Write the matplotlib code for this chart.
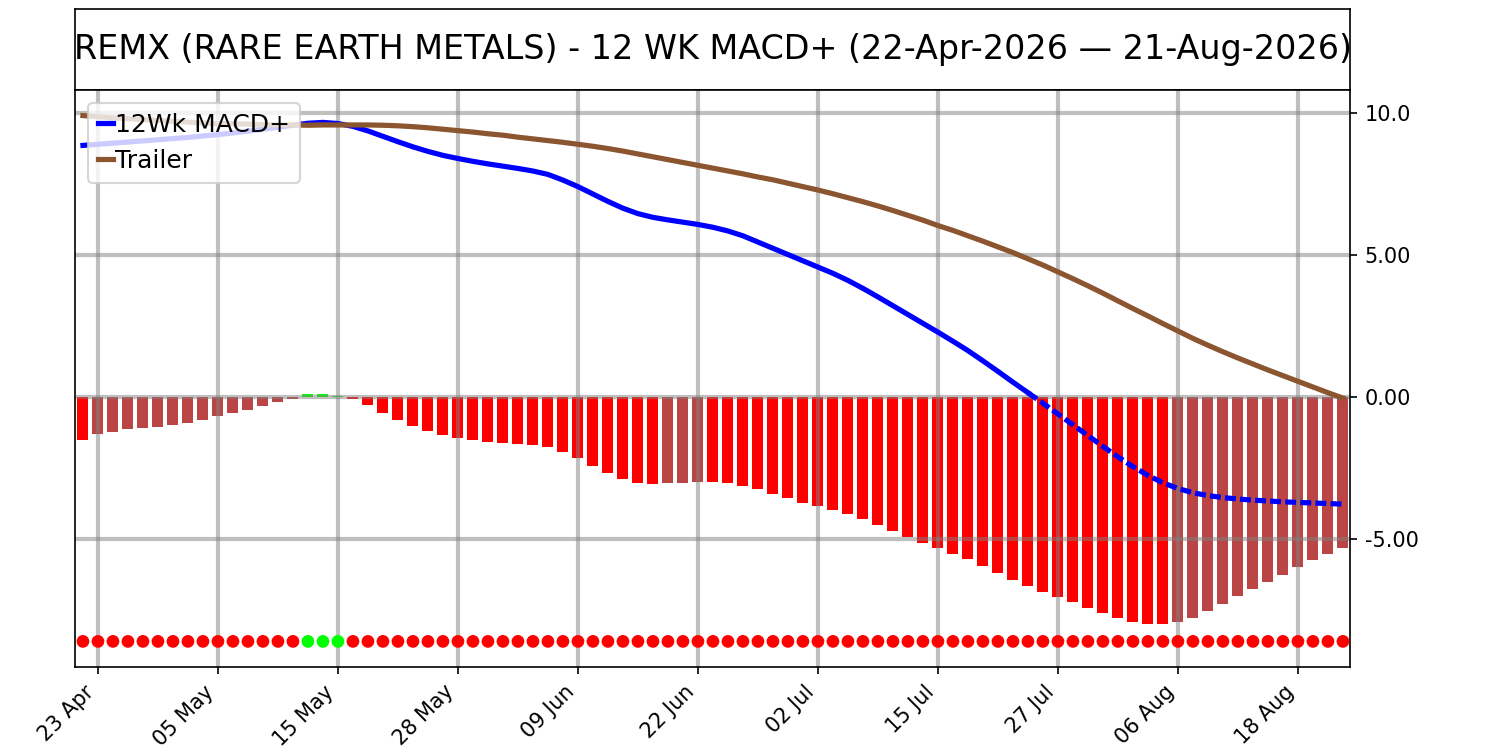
import numpy as np
import pandas as pd
import matplotlib
matplotlib.use('Agg')
import matplotlib.pyplot as plt
from matplotlib.ticker import FuncFormatter

# trading days (US market holidays skipped)
holidays = ['2026-05-25', '2026-06-19', '2026-07-03']
dates = pd.bdate_range('2026-04-22', '2026-08-21', freq='C', holidays=holidays)

macd = [8.85, 8.89, 8.93, 8.97, 9.01, 9.05, 9.09, 9.13, 9.18, 9.23,
        9.29, 9.35, 9.42, 9.49, 9.56, 9.63, 9.66, 9.62, 9.52, 9.36,
        9.17, 8.98, 8.80, 8.64, 8.50, 8.39, 8.29, 8.20, 8.12, 8.04,
        7.95, 7.83, 7.63, 7.40, 7.14, 6.88, 6.64, 6.45, 6.32, 6.23,
        6.15, 6.07, 5.97, 5.84, 5.67, 5.45, 5.23, 5.01, 4.79, 4.57,
        4.35, 4.10, 3.82, 3.52, 3.21, 2.90, 2.59, 2.28, 1.96, 1.63,
        1.27, 0.90, 0.52, 0.15, -0.22, -0.60, -0.98, -1.36, -1.74, -2.11,
        -2.45, -2.76, -3.02, -3.22, -3.37, -3.47, -3.54, -3.59, -3.63, -3.66,
        -3.69, -3.71, -3.73, -3.75, -3.77]

trailer = [9.90, 9.86, 9.82, 9.79, 9.76, 9.73, 9.70, 9.67, 9.64, 9.62,
           9.61, 9.60, 9.58, 9.57, 9.57, 9.56, 9.57, 9.57, 9.57, 9.57,
           9.56, 9.54, 9.51, 9.47, 9.42, 9.37, 9.32, 9.26, 9.21, 9.14,
           9.08, 9.02, 8.96, 8.89, 8.82, 8.74, 8.65, 8.55, 8.45, 8.35,
           8.25, 8.15, 8.05, 7.95, 7.85, 7.74, 7.64, 7.52, 7.40, 7.28,
           7.15, 7.01, 6.87, 6.72, 6.56, 6.39, 6.22, 6.03, 5.86, 5.67,
           5.48, 5.28, 5.08, 4.86, 4.64, 4.40, 4.16, 3.91, 3.65, 3.38,
           3.11, 2.85, 2.58, 2.32, 2.06, 1.82, 1.59, 1.37, 1.16, 0.95,
           0.75, 0.55, 0.35, 0.15, -0.04]

hist = [-1.51, -1.31, -1.22, -1.11, -1.08, -1.04, -0.97, -0.90, -0.80, -0.66,
        -0.55, -0.45, -0.31, -0.17, -0.06, 0.09, 0.12, 0.03, -0.08, -0.28,
        -0.55, -0.80, -1.01, -1.19, -1.33, -1.43, -1.50, -1.57, -1.61, -1.64,
        -1.68, -1.75, -1.93, -2.14, -2.42, -2.66, -2.88, -3.02, -3.05, -3.03,
        -3.02, -2.98, -2.99, -3.02, -3.12, -3.23, -3.40, -3.55, -3.72, -3.83,
        -3.97, -4.11, -4.29, -4.50, -4.71, -4.92, -5.13, -5.31, -5.52, -5.69,
        -5.94, -6.19, -6.44, -6.64, -6.85, -7.03, -7.21, -7.43, -7.59, -7.78,
        -7.91, -7.98, -7.99, -7.91, -7.78, -7.52, -7.28, -7.00, -6.76, -6.50,
        -6.26, -5.97, -5.73, -5.52, -5.31]

title = 'REMX (RARE EARTH METALS) - 12 WK MACD+ (22-Apr-2026 \u2014 21-Aug-2026)'

x = np.arange(len(dates))
macd = np.array(macd)

# bar colours: positive -> lime, negative falling -> red, negative rising -> brownish
bar_colors = []
for i, v in enumerate(hist):
    if v > 0:
        bar_colors.append('#00ff00')
    elif i == 0 or v < hist[i - 1]:
        bar_colors.append('#ff0000')
    else:
        bar_colors.append('#bb4444')
dot_colors = ['#00ff00' if v > 0 else '#ff0000' for v in hist]

fig = plt.figure(figsize=(10, 5), dpi=150)

tax = fig.add_axes([0.05, 0.88, 0.85, 0.108])
tax.set_xticks([])
tax.set_yticks([])
tax.text(0.5, 0.5, title, ha='center', va='center', fontsize=16, transform=tax.transAxes)

ax = fig.add_axes([0.05, 0.1107, 0.85, 0.7693])
ax.bar(x, hist, width=0.73, color=bar_colors)

last_pos = int(np.where(macd >= 0)[0][-1])
ax.plot(x[:last_pos + 1], macd[:last_pos + 1], color='blue', lw=2.5, label='12Wk MACD+')
ax.plot(x[last_pos:], macd[last_pos:], color='blue', lw=2.5, ls=(0, (2.1, 0.8)))
ax.plot(x, trailer, color='#8b5530', lw=2.5, label='Trailer')

ax.scatter(x, np.full(len(x), -8.6), c=dot_colors, s=26, zorder=3)

ax.set_xlim(-0.53, 84.47)
ax.set_ylim(-9.5, 10.8)
ax.yaxis.tick_right()
ax.set_yticks([-5, 0, 5, 10])
ax.yaxis.set_major_formatter(FuncFormatter(lambda v, p: f'{v:#.3g}'))

tick_idx = x[1::8]
ax.set_xticks(tick_idx)
ax.set_xticklabels([dates[i].strftime('%d %b') for i in tick_idx], rotation=45, ha='right')

ax.grid(True, color='gray', alpha=0.5, lw=2)
ax.legend(loc='upper left', fontsize=12, handlelength=0.6, handletextpad=0.1)

fig.savefig('out.png')
